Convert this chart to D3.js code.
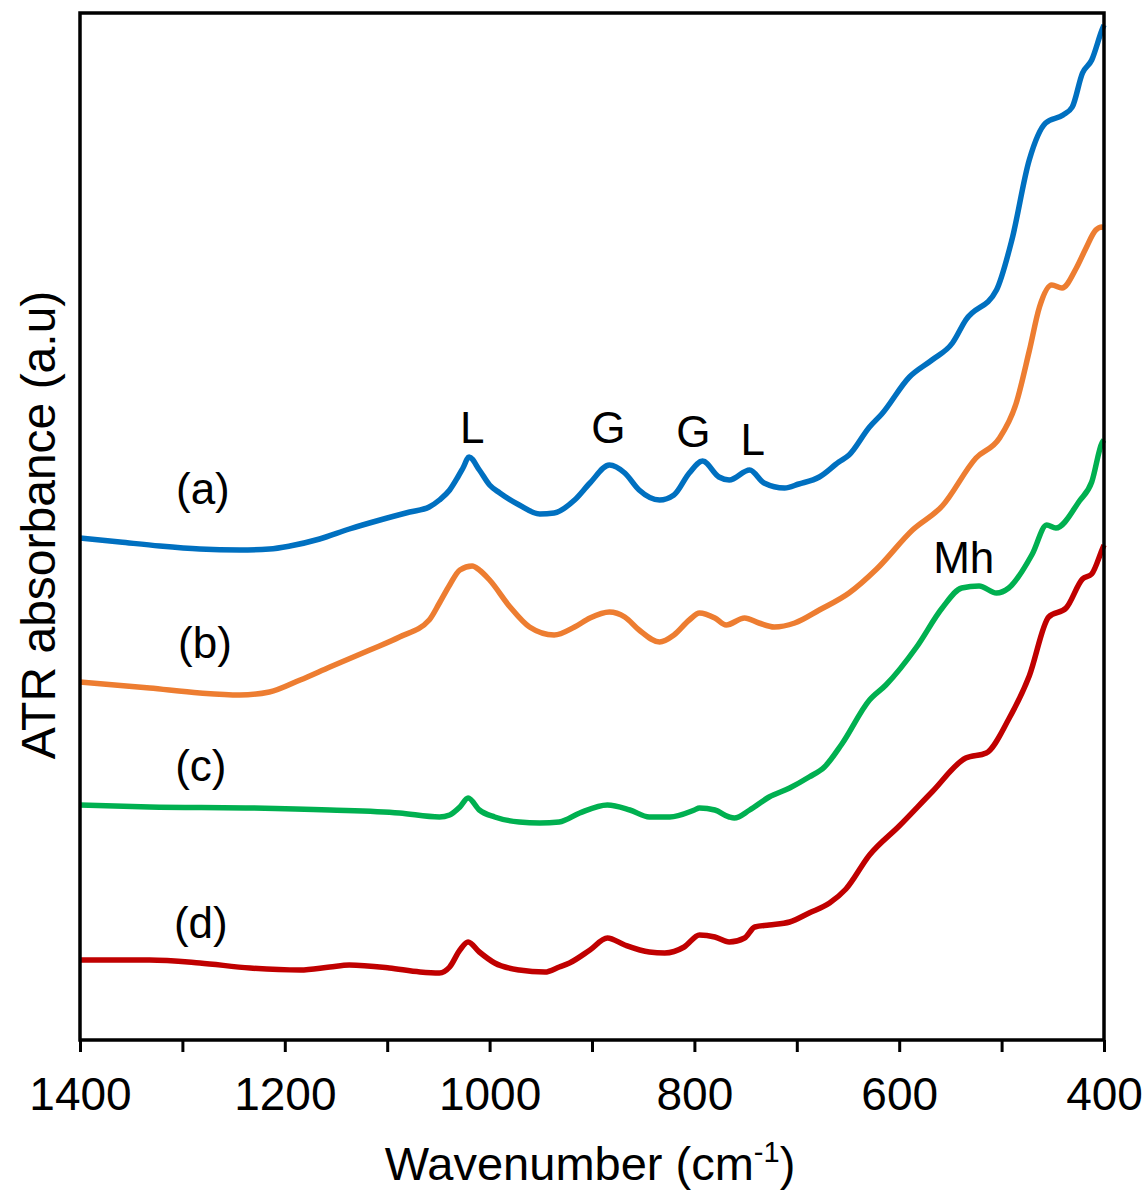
<!DOCTYPE html>
<html>
<head>
<meta charset="utf-8">
<script src="https://cdn.jsdelivr.net/npm/d3@7"></script>
<style>
  body { margin: 0; background: #fff; }
  svg { display: block; font-family: Arial, "Liberation Sans", sans-serif; }
</style>
</head>
<body>
<svg id="chart" width="1148" height="1190"></svg>
<script>
// spectra: [wavenumber, absorbance (a.u.)]
const seriesA = [
  [1400, 0.502], [1361, 0.498], [1322, 0.494], [1283, 0.491], [1244, 0.490], [1215, 0.491],
  [1195, 0.494], [1166, 0.501], [1137, 0.511], [1107, 0.520], [1078, 0.528], [1059, 0.533],
  [1049, 0.540], [1039, 0.550], [1031, 0.563], [1026, 0.572], [1020, 0.583], [1010, 0.570],
  [1000, 0.555], [990, 0.547], [971, 0.535], [951, 0.526], [937, 0.527], [917, 0.540],
  [902, 0.557], [883, 0.575], [868, 0.567], [854, 0.550], [834, 0.540], [820, 0.545],
  [805, 0.567], [792, 0.579], [776, 0.563], [766, 0.560], [746, 0.570], [732, 0.557],
  [712, 0.552], [698, 0.556], [678, 0.563], [659, 0.578], [649, 0.585], [629, 0.613],
  [617, 0.626], [590, 0.663], [568, 0.680], [548, 0.697], [535, 0.720], [505, 0.750],
  [490, 0.800], [473, 0.880], [457, 0.917], [440, 0.925], [431, 0.933], [421, 0.967],
  [412, 0.980], [402, 1.010], [400, 1.015]
];
const seriesB = [
  [1400, 0.358], [1332, 0.352], [1283, 0.347], [1244, 0.345], [1215, 0.348], [1185, 0.360],
  [1156, 0.373], [1117, 0.390], [1088, 0.403], [1059, 0.420], [1049, 0.437], [1039, 0.455],
  [1029, 0.470], [1017, 0.474], [1010, 0.470], [1000, 0.460], [980, 0.433], [961, 0.413],
  [937, 0.405], [917, 0.413], [902, 0.422], [883, 0.428], [868, 0.423], [854, 0.410],
  [834, 0.398], [820, 0.405], [805, 0.420], [795, 0.427], [780, 0.422], [769, 0.415],
  [751, 0.422], [737, 0.417], [722, 0.413], [702, 0.417], [678, 0.430], [649, 0.447],
  [622, 0.471], [587, 0.510], [558, 0.534], [525, 0.582], [502, 0.602], [486, 0.636],
  [473, 0.689], [463, 0.733], [451, 0.755], [441, 0.752], [427, 0.772], [418, 0.791],
  [408, 0.810], [402, 0.813], [400, 0.812]
];
const seriesC = [
  [1400, 0.235], [1332, 0.233], [1234, 0.232], [1156, 0.230], [1088, 0.227], [1049, 0.223],
  [1039, 0.225], [1029, 0.233], [1021, 0.242], [1010, 0.230], [995, 0.223], [971, 0.218],
  [951, 0.217], [932, 0.218], [912, 0.227], [885, 0.235], [863, 0.230], [844, 0.223],
  [824, 0.223], [800, 0.230], [795, 0.232], [780, 0.230], [766, 0.223], [761, 0.222],
  [746, 0.230], [727, 0.243], [707, 0.252], [688, 0.263], [673, 0.273], [656, 0.296],
  [629, 0.340], [613, 0.355], [583, 0.393], [558, 0.432], [539, 0.452], [522, 0.454],
  [505, 0.447], [493, 0.452], [470, 0.486], [456, 0.515], [447, 0.512], [424, 0.539],
  [412, 0.558], [402, 0.597], [400, 0.600]
];
const seriesD = [
  [1400, 0.080], [1332, 0.080], [1283, 0.077], [1234, 0.072], [1185, 0.070], [1156, 0.073],
  [1137, 0.075], [1098, 0.072], [1068, 0.068], [1049, 0.067], [1039, 0.073], [1029, 0.090],
  [1021, 0.098], [1010, 0.088], [995, 0.077], [971, 0.070], [946, 0.068], [932, 0.073],
  [922, 0.077], [902, 0.090], [885, 0.102], [868, 0.095], [844, 0.088], [829, 0.087],
  [810, 0.093], [795, 0.105], [780, 0.103], [766, 0.098], [751, 0.102], [741, 0.113],
  [727, 0.115], [707, 0.118], [688, 0.127], [668, 0.137], [652, 0.151], [629, 0.185],
  [600, 0.214], [568, 0.248], [535, 0.282], [515, 0.287], [493, 0.321], [473, 0.364],
  [454, 0.423], [437, 0.432], [421, 0.461], [412, 0.466], [402, 0.490], [400, 0.495]
];

const seriesColors = ["#0070c0", "#ed7d31", "#00b050", "#c00000"];
const seriesLabels = ["(a)", "(b)", "(c)", "(d)"];
// label anchor: [wavenumber, absorbance]
const seriesLabelPos = [[1280, 0.536], [1278, 0.382], [1282, 0.259], [1282, 0.102]];

const peakLabels = ["L", "G", "G", "L", "Mh"];
const peakLabelPos = [[1017, 0.597], [884, 0.597], [801, 0.593], [743, 0.585], [537, 0.467]];

const xTicks = d3.range(1400, 399, -100);
const xTickLabels = [1400, 1200, 1000, 800, 600, 400];

const svg = d3.select("#chart");
const margin = {left: 80, right: 44, top: 13, bottom: 150};
const width = 1148 - margin.left - margin.right;
const height = 1190 - margin.top - margin.bottom;

const x = d3.scaleLinear().domain([1400, 400]).range([0, width]);
const y = d3.scaleLinear().domain([0, 1.027]).range([height, 0]);

const g = svg.append("g").attr("transform", `translate(${margin.left},${margin.top})`);

// series
const line = d3.line()
  .x(d => x(d[0]))
  .y(d => y(d[1]))
  .curve(d3.curveMonotoneX);

[seriesA, seriesB, seriesC, seriesD].forEach((s, i) => {
  g.append("path")
    .datum(s)
    .attr("d", line)
    .attr("fill", "none")
    .attr("stroke", seriesColors[i])
    .attr("stroke-width", 5.5)
    .attr("stroke-linejoin", "round");
});

// frame
g.append("rect")
  .attr("width", width)
  .attr("height", height)
  .attr("fill", "none")
  .attr("stroke", "#000")
  .attr("stroke-width", 3.5);

// x axis ticks
const xAxis = d3.axisBottom(x)
  .tickValues(xTicks)
  .tickSize(12)
  .tickSizeOuter(0)
  .tickFormat(d => xTickLabels.includes(d) ? d : "");

const axisG = g.append("g")
  .attr("transform", `translate(0,${height})`)
  .call(xAxis);
axisG.select(".domain").remove();
axisG.selectAll(".tick line").attr("stroke", "#000").attr("stroke-width", 3);
axisG.selectAll(".tick text")
  .attr("font-size", 46)
  .attr("font-family", "Arial, 'Liberation Sans', sans-serif")
  .attr("fill", "#000")
  .attr("dy", null)
  .attr("y", 70);

// axis titles
const xTitle = svg.append("text")
  .attr("x", 590)
  .attr("y", 1180)
  .attr("text-anchor", "middle")
  .attr("font-size", 47)
  .attr("fill", "#000");
xTitle.append("tspan").text("Wavenumber (cm");
xTitle.append("tspan").attr("font-size", 29).attr("dy", -18).text("-1");
xTitle.append("tspan").attr("dy", 18).text(")");

svg.append("text")
  .attr("transform", "translate(55,525) rotate(-90)")
  .attr("text-anchor", "middle")
  .attr("font-size", 48)
  .attr("fill", "#000")
  .text("ATR absorbance (a.u)");

// series labels
g.selectAll(".series-label")
  .data(seriesLabels)
  .join("text")
  .attr("class", "series-label")
  .attr("x", (d, i) => x(seriesLabelPos[i][0]))
  .attr("y", (d, i) => y(seriesLabelPos[i][1]))
  .attr("text-anchor", "middle")
  .attr("font-size", 44)
  .attr("fill", "#000")
  .text(d => d);

// peak labels
g.selectAll(".peak-label")
  .data(peakLabels)
  .join("text")
  .attr("class", "peak-label")
  .attr("x", (d, i) => x(peakLabelPos[i][0]))
  .attr("y", (d, i) => y(peakLabelPos[i][1]))
  .attr("text-anchor", "middle")
  .attr("font-size", 44)
  .attr("fill", "#000")
  .text(d => d);
</script>
</body>
</html>
